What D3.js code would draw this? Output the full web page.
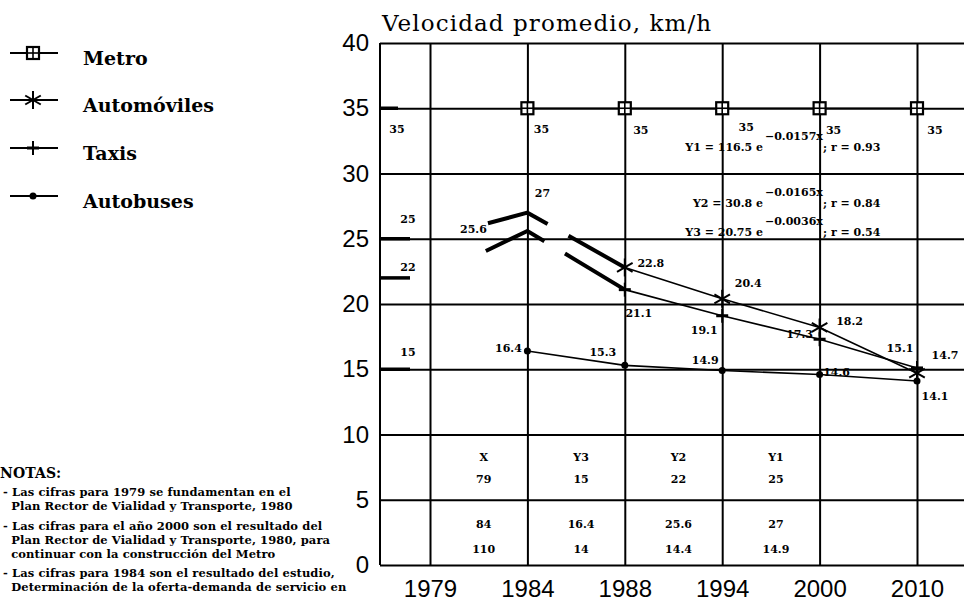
<!DOCTYPE html>
<html lang="es">
<head>
<meta charset="UTF-8">
<title>Velocidad promedio</title>
<script src="https://d3js.org/d3.v7.min.js"></script>
<style>
  body { margin: 0; background: #fff; }
  svg { display: block; }
  .grid line { stroke: #000; stroke-width: 2px; }
  .grid path { display: none; }
  .ylab text { font-family: "Liberation Sans", Arial, sans-serif; font-size: 24px; fill: #000; }
  .xlab text { font-family: "Liberation Sans", Arial, sans-serif; font-size: 24px; fill: #000; }
  .title { font-family: "DejaVu Serif", serif; font-size: 23px; letter-spacing: 1.1px; fill: #000; }
  .lbl { font-family: "DejaVu Serif", serif; font-weight: bold; font-size: 11px; fill: #000; }
  .legend text { font-family: "DejaVu Serif", serif; font-weight: bold; font-size: 19px; fill: #000; }
  .notes text { font-family: "DejaVu Serif", serif; font-weight: bold; font-size: 11.5px; letter-spacing: 0.1px; fill: #000; }
</style>
</head>
<body>
<div id="chart"></div>
<script>
// years on the x axis
const years = [1979, 1984, 1988, 1994, 2000, 2010];

// velocidad promedio, km/h
const metro = [35, 35, 35, 35, 35, 35];
const automoviles = [25, 27, 22.8, 20.4, 18.2, 14.7];
const taxis = [22, 25.6, 21.1, 19.1, 17.3, 15.1];
const autobuses = [15, 16.4, 15.3, 14.9, 14.6, 14.1];

const yTicks = [0, 5, 10, 15, 20, 25, 30, 35, 40];

// regression table at the bottom
const tableHeaders = ["X", "Y3", "Y2", "Y1"];
const tableRows = [
  ["79", "15", "22", "25"],
  ["84", "16.4", "25.6", "27"],
  ["110", "14", "14.4", "14.9"]
];

const formulas = [
  { name: "Y1", a: "116.5", k: "\u22120.0157x", r: "0.93" },
  { name: "Y2", a: "30.8", k: "\u22120.0165x", r: "0.84" },
  { name: "Y3", a: "20.75", k: "\u22120.0036x", r: "0.54" }
];

const notes = [
  "- Las cifras para 1979 se fundamentan en el",
  "  Plan Rector de Vialidad y Transporte, 1980",
  "- Las cifras para el año 2000 son el resultado del",
  "  Plan Rector de Vialidad y Transporte, 1980, para",
  "  continuar con la construcción del Metro",
  "- Las cifras para 1984 son el resultado del estudio,",
  "  Determinación de la oferta-demanda de servicio en"
];

const W = 964, H = 604;
const pLeft = 380, pRight = 964, pTop = 43, pBottom = 565;

const svg = d3.select("#chart").append("svg")
  .attr("width", W).attr("height", H);
svg.append("rect").attr("width", W).attr("height", H).attr("fill", "#fff");

const x = d3.scalePoint().domain(years).range([430, 917]);
const y = d3.scaleLinear().domain([0, 40]).range([pBottom, pTop]);

// horizontal grid + y labels
svg.append("g")
  .attr("class", "grid ylab")
  .attr("transform", "translate(" + pLeft + ",0)")
  .call(d3.axisLeft(y).tickValues(yTicks).tickSize(-(pRight - pLeft)).tickPadding(11));

// vertical grid + year labels
svg.append("g")
  .attr("class", "grid xlab")
  .attr("transform", "translate(0," + pBottom + ")")
  .call(d3.axisBottom(x).tickSize(-(pBottom - pTop)).tickPadding(15));

// left border
svg.append("line")
  .attr("x1", pLeft).attr("x2", pLeft).attr("y1", pTop).attr("y2", pBottom)
  .attr("stroke", "#000").attr("stroke-width", 2);

// title
svg.append("text")
  .attr("class", "title")
  .attr("x", 382).attr("y", 31)
  .text("Velocidad promedio, km/h");

const series = [
  { name: "Metro", values: metro, marker: "square" },
  { name: "Automóviles", values: automoviles, marker: "star" },
  { name: "Taxis", values: taxis, marker: "plus" },
  { name: "Autobuses", values: autobuses, marker: "dot" }
];

function drawMarker(g, type, cx, cy) {
  const m = g.append("g").attr("transform", "translate(" + cx + "," + cy + ")")
    .attr("stroke", "#000").attr("fill", "none");
  if (type === "square") {
    m.append("rect").attr("x", -6).attr("y", -6).attr("width", 12).attr("height", 12)
      .attr("fill", "#fff").attr("stroke-width", 2.2);
    m.append("line").attr("x1", 0).attr("x2", 0).attr("y1", -6).attr("y2", 6).attr("stroke-width", 1.6);
    m.append("line").attr("x1", -6).attr("x2", 6).attr("y1", 0).attr("y2", 0).attr("stroke-width", 1.6);
  } else if (type === "star") {
    [90, 30, -30].forEach(a => {
      const r = 9, dx = r * Math.cos(a * Math.PI / 180), dy = r * Math.sin(a * Math.PI / 180);
      m.append("line").attr("x1", -dx).attr("x2", dx).attr("y1", -dy).attr("y2", dy).attr("stroke-width", 2);
    });
  } else if (type === "plus") {
    m.append("line").attr("x1", 0).attr("x2", 0).attr("y1", -7).attr("y2", 7).attr("stroke-width", 2);
    m.append("line").attr("x1", -6).attr("x2", 6).attr("y1", 0).attr("y2", 0).attr("stroke-width", 3);
  } else {
    m.append("circle").attr("r", 3.5).attr("fill", "#000").attr("stroke", "none");
  }
}

const line = d3.line().x(d => x(d.year)).y(d => y(d.v));
const plot = svg.append("g");

series.forEach(s => {
  const pts = years.map((yr, i) => ({ year: yr, v: s.values[i] }));
  // 1979 value as a thick stub on the left border
  plot.append("line")
    .attr("x1", pLeft).attr("x2", s.name === "Metro" ? 398 : 410)
    .attr("y1", y(s.values[0])).attr("y2", y(s.values[0]))
    .attr("stroke", "#000").attr("stroke-width", 3.5);

  let solidFrom = 1;
  if (s.name === "Automóviles" || s.name === "Taxis") {
    // projected section 1979-1984-1988, thick dashed
    plot.append("path")
      .attr("d", line(pts.slice(0, 3)))
      .attr("fill", "none").attr("stroke", "#000").attr("stroke-width", 4)
      .attr("stroke-dasharray", s.name === "Taxis" ? "0 62 66 24 200" : "0 60 64 24 200");
    solidFrom = 2;
  }
  plot.append("path")
    .attr("d", line(pts.slice(solidFrom)))
    .attr("fill", "none").attr("stroke", "#000").attr("stroke-width", 1.6);

  pts.slice(1).forEach(p => {
    if (s.marker === "dot" || p.year >= 1988 || s.marker === "square") drawMarker(plot, s.marker, x(p.year), y(p.v));
  });
});

// value labels (offsets from each point, pixels)
const labelOffsets = {
  "Metro": [[-33, 21], [14, 21], [16, 22], [24, 19], [14, 22], [18, 22]],
  "Automóviles": [[-22, -20], [15, -20], [26, -4], [26, -16], [30, -6], [28, -18]],
  "Taxis": [[-22, -11], [-54, -2], [14, 24], [-18, 14], [-20, -5], [-17, -20]],
  "Autobuses": [[-22, -17], [-19, -3], [-22, -13], [-17, -10], [17, -2], [18, 15]]
};
series.forEach(s => {
  s.values.forEach((v, i) => {
    const o = labelOffsets[s.name][i];
    svg.append("text").attr("class", "lbl")
      .attr("x", x(years[i]) + o[0]).attr("y", y(v) + o[1])
      .attr("text-anchor", "middle").attr("dy", "0.35em")
      .text(String(v));
  });
});

// regression formulas
const fY = [32, 27.7, 25.5];
formulas.forEach((f, i) => {
  const by = y(fY[i]);
  svg.append("text").attr("class", "lbl").attr("x", 763).attr("y", by)
    .attr("text-anchor", "end").attr("dy", "0.35em")
    .text(f.name + " = " + f.a + " e");
  svg.append("text").attr("class", "lbl").attr("x", 765).attr("y", by - 11)
    .attr("dy", "0.35em").text(f.k);
  svg.append("text").attr("class", "lbl").attr("x", 823).attr("y", by)
    .attr("dy", "0.35em").text("; r = " + f.r);
});

// table between the year gridlines
const colX = d3.range(4).map(i => (x(years[i]) + x(years[i + 1])) / 2 + 5);
const rowY = [8.3, 6.6, 3.1, 1.2];
tableHeaders.forEach((h, j) => {
  svg.append("text").attr("class", "lbl").attr("x", colX[j]).attr("y", y(rowY[0]))
    .attr("text-anchor", "middle").attr("dy", "0.35em").text(h);
});
tableRows.forEach((row, i) => {
  row.forEach((c, j) => {
    svg.append("text").attr("class", "lbl").attr("x", colX[j]).attr("y", y(rowY[i + 1]))
      .attr("text-anchor", "middle").attr("dy", "0.35em").text(c);
  });
});

// legend
const legend = svg.append("g").attr("class", "legend");
const legY = [53, 100, 148, 196];
series.forEach((s, i) => {
  legend.append("line").attr("x1", 10).attr("x2", 58).attr("y1", legY[i]).attr("y2", legY[i])
    .attr("stroke", "#000").attr("stroke-width", 1.8);
  drawMarker(legend, s.marker, 33, legY[i]);
  legend.append("text").attr("x", 83).attr("y", legY[i] + 12).text(s.name);
});

// notes
const ng = svg.append("g").attr("class", "notes");
ng.append("text").attr("x", 0).attr("y", 478).style("font-size", "14px").text("NOTAS:");
const noteY = [496, 510, 530, 544, 558, 577, 591];
notes.forEach((t, i) => {
  ng.append("text").attr("x", 3).attr("y", noteY[i])
    .style("white-space", "pre").text(t);
});
</script>
</body>
</html>
